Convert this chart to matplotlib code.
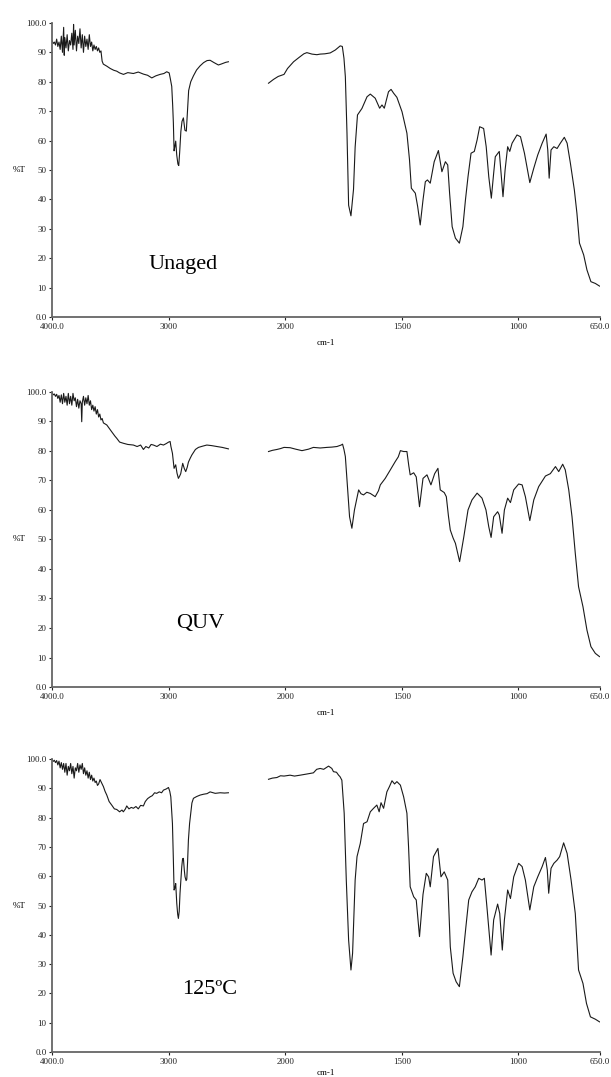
import numpy as np
import matplotlib
matplotlib.use("Agg")
import matplotlib.pyplot as plt
from matplotlib.ticker import NullLocator

plt.rcParams['font.family'] = ['Liberation Serif', 'DejaVu Serif']

# ---- data, wavenumber in cm-1, %T ----
# Unaged
unaged_hi_wn = [4000, 3990, 3980, 3970, 3960, 3950, 3940, 3930, 3920, 3910, 3900, 3895, 3890, 3880,
                3870, 3860, 3850, 3840, 3830, 3820, 3815, 3810, 3800, 3790, 3780, 3770, 3760, 3750,
                3740, 3730, 3720, 3710, 3700, 3690, 3680, 3670, 3660, 3650, 3640, 3630, 3620, 3610,
                3600, 3590, 3580, 3570, 3560, 3530, 3500, 3470, 3445, 3420, 3387, 3350, 3302, 3260,
                3216, 3180, 3144, 3110, 3073, 3040, 3016, 2995, 2985, 2973, 2965, 2959, 2953, 2946,
                2939, 2930, 2920, 2913, 2905, 2895, 2885, 2873, 2860, 2848, 2838, 2828, 2810, 2787,
                2760, 2730, 2700, 2670, 2644, 2610, 2573, 2550, 2530, 2510, 2487]
unaged_hi_t = [94, 93, 93.5, 92.5, 94.5, 92, 93.5, 91, 95.5, 90, 98.5, 89, 95, 91.5,
               96, 90.5, 94, 92.5, 96.5, 91, 99.5, 92.5, 97.5, 90.5, 95.5, 93, 98, 91.5,
               96, 90, 95.5, 92, 94.5, 91, 96, 92, 93.5, 90.5, 92.5, 91, 92, 90.5,
               91.5, 90, 90.5, 87, 86, 85.3, 84.5, 83.9, 83.6, 83.0, 82.5, 83.1, 82.8, 83.3,
               82.6, 82.2, 81.3, 82.0, 82.5, 82.8, 83.4, 83, 81, 78.4, 72, 66, 56.5, 58,
               59.8, 55, 52, 51.5, 56, 63, 66.5, 67.7, 63.5, 63.2, 70, 77, 80, 82,
               84, 85.4, 86.5, 87.2, 87.3, 86.5, 85.7, 86, 86.3, 86.6, 86.8]
unaged_lo_wn = [2143, 2100, 2060, 2010, 1990, 1964, 1940, 1920, 1907, 1885, 1864, 1850, 1830, 1807,
                1785, 1770, 1764, 1755, 1748, 1742, 1735, 1728, 1718, 1707, 1700, 1690, 1671, 1649,
                1635, 1614, 1595, 1585, 1575, 1557, 1546, 1535, 1521, 1499, 1478, 1467, 1459, 1442,
                1432, 1421, 1409, 1399, 1390, 1378, 1361, 1343, 1328, 1313, 1303, 1295, 1284, 1270,
                1253, 1238, 1227, 1216, 1203, 1189, 1177, 1166, 1149, 1138, 1127, 1116, 1106, 1099,
                1082, 1073, 1066, 1057, 1046, 1037, 1027, 1006, 991, 974, 951, 934, 917, 898,
                881, 874, 868, 860, 848, 834, 820, 803, 791, 777, 760, 749, 738, 720,
                706, 689, 670, 652]
unaged_lo_t = [79.5, 80.8, 81.8, 82.5, 84.5, 86.8, 88.3, 89.5, 89.9, 89.4, 89.2, 89.4, 89.5, 89.8,
               90.8, 91.8, 92.2, 92, 88, 81.7, 62.5, 38, 34.4, 43.4, 57.8, 68.7, 70.9, 74.9,
               75.8, 74.4, 71, 72.1, 71, 76.6, 77.4, 76.1, 74.7, 69.8, 62.5, 53.5, 43.8, 42.1,
               37.6, 31.3, 39.8, 46, 46.6, 45.5, 52.8, 56.6, 49.4, 52.8, 51.7, 42.1, 30.7, 26.8,
               25.1, 30.7, 39.8, 47.7, 55.7, 56.3, 60.2, 64.7, 64.1, 57.9, 47.7, 40.4, 48.9, 54.5,
               56.3, 47.7, 40.9, 50, 57.9, 56.3, 59.1, 61.9, 61.3, 55.7, 45.7, 50.6, 55.1, 59.1,
               62.2, 56.8, 47.2, 56.8, 57.9, 57.3, 59.1, 61.1, 59.1, 52.3, 43.2, 35.3, 25.1, 21.1,
               16, 12, 11.4, 10.5]

# QUV
quv_hi_wn = [4000, 3990, 3980, 3970, 3960, 3950, 3940, 3930, 3920, 3910, 3900, 3890, 3880, 3870,
             3860, 3850, 3840, 3830, 3820, 3810, 3800, 3790, 3780, 3770, 3760, 3750, 3745, 3740,
             3730, 3720, 3710, 3700, 3690, 3680, 3670, 3660, 3650, 3640, 3630, 3620, 3610, 3600,
             3590, 3580, 3570, 3559, 3530, 3488, 3460, 3445, 3420, 3388, 3350, 3302, 3270, 3240,
             3216, 3195, 3170, 3150, 3130, 3100, 3070, 3044, 3020, 3000, 2987, 2980, 2967, 2953,
             2939, 2928, 2916, 2905, 2896, 2879, 2865, 2853, 2840, 2830, 2815, 2801, 2770, 2744,
             2710, 2672, 2630, 2586, 2540, 2487]
quv_hi_t = [99.8, 99, 99.3, 98.5, 99.2, 97.8, 98.8, 96.5, 99, 96, 99.5, 96.5, 98.5, 95.5,
            99.5, 96, 98.5, 95.5, 99.5, 97, 98, 95, 97.5, 94.5, 97, 96, 89.9, 96.5,
            98.5, 95.5, 98, 96, 98.8, 95.5, 97, 94, 95.5, 93.5, 95, 92.5, 94, 91.5,
            92.5, 90.5, 91, 89.5, 88.8, 86.5, 85, 84.3, 83, 82.6, 82.2, 82, 81.5, 82,
            80.5, 81.5, 81, 82.2, 82, 81.5, 82.3, 82, 82.5, 83, 83.2, 81.5, 79.2, 74.1,
            75.3, 72.5, 70.7, 71.5, 72.3, 75.8, 74, 73, 74.5, 76.2, 77.5, 78.6, 80.5, 81.2,
            81.6, 82, 81.8, 81.5, 81.2, 80.7]
quv_lo_wn = [2143, 2110, 2071, 2040, 2010, 1979, 1955, 1928, 1900, 1879, 1850, 1821, 1800, 1778,
             1760, 1754, 1748, 1742, 1732, 1724, 1714, 1703, 1685, 1675, 1664, 1650, 1635, 1614,
             1600, 1592, 1571, 1549, 1528, 1515, 1506, 1492, 1478, 1470, 1464, 1449, 1438, 1424,
             1409, 1392, 1375, 1359, 1345, 1335, 1318, 1309, 1300, 1292, 1280, 1270, 1252, 1234,
             1216, 1199, 1177, 1156, 1139, 1127, 1117, 1106, 1089, 1082, 1070, 1060, 1046, 1034,
             1020, 999, 984, 970, 951, 934, 913, 884, 863, 841, 827, 810, 799, 784,
             770, 756, 742, 723, 706, 689, 670, 652]
quv_lo_t = [79.8, 80.2, 80.5, 80.8, 81.2, 81.1, 80.6, 80.1, 80.6, 81.2, 81, 81.2, 81.3, 81.5,
            82, 82.3, 80.5, 78.1, 66.8, 57.7, 53.8, 60, 66.8, 65.5, 65.1, 66, 65.6, 64.5,
            66.5, 68.5, 70.7, 73.6, 76.4, 78, 80.1, 79.8, 79.8, 75, 71.9, 72.6, 71.2, 61.1,
            70.7, 71.9, 68.5, 72.3, 74.1, 66.8, 65.9, 64.5, 58, 53.2, 50.5, 48.7, 42.5, 50.9,
            60, 63.4, 65.7, 64, 60, 54.3, 50.7, 57.7, 59.4, 58.3, 52.1, 60, 64, 62.5,
            66.8, 68.8, 68.5, 64.5, 56.4, 63.4, 67.9, 71.5, 72.3, 74.7, 73, 75.5, 73.6, 66.8,
            57.7, 45.3, 34, 27.2, 19.3, 13.7, 11.4, 10.3]

# 125 C
heat_hi_wn = [4000, 3990, 3980, 3970, 3960, 3950, 3940, 3930, 3920, 3910, 3900, 3890, 3880, 3870,
              3860, 3850, 3840, 3830, 3820, 3810, 3800, 3790, 3780, 3770, 3760, 3750, 3740, 3730,
              3720, 3710, 3700, 3690, 3680, 3670, 3660, 3650, 3640, 3630, 3620, 3610, 3600, 3588,
              3570, 3559, 3545, 3530, 3510, 3488, 3465, 3445, 3420, 3400, 3388, 3370, 3359, 3340,
              3320, 3302, 3280, 3260, 3240, 3216, 3200, 3180, 3159, 3140, 3120, 3102, 3080, 3060,
              3044, 3020, 3001, 2990, 2981, 2967, 2959, 2953, 2946, 2939, 2930, 2922, 2916, 2909,
              2902, 2887, 2880, 2873, 2865, 2859, 2850, 2844, 2837, 2830, 2820, 2810, 2800, 2787,
              2760, 2730, 2700, 2670, 2644, 2600, 2558, 2520, 2487]
heat_hi_t = [99.8, 99.2, 99.6, 98.8, 99.5, 98, 99.3, 97, 98.8, 96.5, 98.5, 95.5, 98.5, 94.5,
             97.5, 96, 98.5, 95, 97.5, 93.5, 97, 96, 98.5, 95.5, 98, 96.5, 98.5, 95,
             97, 94.5, 96, 93.5, 95.5, 93, 94.5, 92.5, 93.5, 92, 92.5, 91, 91.5, 93,
             91.5, 90.6, 89, 87.7, 85.5, 84.3, 83, 82.8, 82, 82.6, 82, 83, 84, 83,
             83.5, 83.2, 83.8, 83, 84.2, 84, 85.5, 86.5, 87.1, 87.5, 88.5, 88.3, 88.8, 88.5,
             89.4, 89.8, 90.3, 89, 87.1, 78, 65.5, 55.3, 56, 57.5, 50.8, 47, 45.6, 48,
             54.2, 63.3, 66, 66.1, 62, 59.8, 58.5, 59, 65, 72.4, 78, 81.5, 85, 86.6,
             87.2, 87.7, 88, 88.2, 88.8, 88.3, 88.5, 88.4, 88.5]
heat_lo_wn = [2143, 2110, 2071, 2040, 2010, 1979, 1960, 1936, 1907, 1879, 1865, 1850, 1835, 1814,
              1800, 1793, 1780, 1771, 1765, 1757, 1747, 1738, 1728, 1718, 1711, 1700, 1692, 1678,
              1664, 1649, 1635, 1621, 1607, 1597, 1589, 1578, 1564, 1553, 1542, 1531, 1521, 1506,
              1492, 1478, 1471, 1464, 1449, 1438, 1424, 1409, 1395, 1385, 1378, 1364, 1345, 1332,
              1318, 1303, 1292, 1280, 1267, 1253, 1238, 1225, 1213, 1199, 1185, 1170, 1156, 1146,
              1135, 1117, 1106, 1089, 1080, 1069, 1060, 1046, 1034, 1020, 999, 984, 970, 951,
              934, 917, 898, 884, 876, 870, 860, 848, 834, 823, 806, 791, 774, 756,
              742, 723, 708, 691, 670, 652]
heat_lo_t = [93.1, 93.5, 93.7, 94.3, 94.2, 94.5, 94.2, 94.5, 94.9, 95.3, 96.5, 96.8, 96.5, 97.6,
             96.8, 95.7, 95.5, 94.5, 94, 92.8, 81.5, 58.7, 38.2, 28, 33.7, 58.7, 66.7, 71.2,
             78, 78.6, 82, 83.2, 84.3, 82, 85.1, 83.2, 88.8, 90.6, 92.6, 91.5, 92.3, 91.1,
             87.1, 81.5, 70.1, 56.4, 53, 51.9, 39.4, 53.8, 61, 59.8, 56.4, 66.7, 69.5, 59.8,
             61.5, 58.7, 35.9, 26.9, 24, 22.3, 32.5, 42.8, 51.9, 54.7, 56.4, 59.3, 58.7, 59.3,
             49.6, 33.1, 45.1, 50.5, 47.3, 34.8, 45.1, 55.3, 52.4, 59.8, 64.4, 63.3, 58.7, 48.5,
             56.4, 59.8, 63.3, 66.4, 62.1, 54.2, 62.7, 64.4, 65.5, 66.7, 71.4, 67.8, 58.7, 47.3,
             28, 23.4, 16.6, 12, 11.2, 10.3]

labels = ["Unaged", "QUV", "125\u00baC"]
label_pos = [(0.239, 0.177), (0.27, 0.214), (0.288, 0.212)]
x_ticks = [4000, 3000, 2000, 1500, 1000, 650]
x_ticklabels = ["4000.0", "3000", "2000", "1500", "1000", "650.0"]
y_ticks = list(range(0, 101, 10))
y_ticklabels = ["0.0"] + [str(v) for v in range(10, 100, 10)] + ["100.0"]


# instrument x-axis: 1000 cm-1 per unit above 2000, 500 cm-1 per unit below
def fwd(w):
    w = np.asarray(w, float)
    return np.where(w >= 2000, w / 1000.0, 2.0 + (w - 2000.0) / 500.0)


def inv(u):
    u = np.asarray(u, float)
    return np.where(u >= 2, u * 1000.0, 2000.0 + (u - 2.0) * 500.0)


spectra = [
    (unaged_hi_wn, unaged_hi_t, unaged_lo_wn, unaged_lo_t),
    (quv_hi_wn, quv_hi_t, quv_lo_wn, quv_lo_t),
    (heat_hi_wn, heat_hi_t, heat_lo_wn, heat_lo_t),
]
bottoms = [0.7057, 0.3621, 0.0232]
heights = [0.273, 0.274, 0.272]
cm_label_y = [-0.088, -0.088, -0.072]

fig = plt.figure(figsize=(6.11, 10.77), dpi=100)

for i, (hw, ht, lw_, lt) in enumerate(spectra):
    ax = fig.add_axes([0.0851, bottoms[i], 0.8969, heights[i]])
    ax.set_xscale('function', functions=(fwd, inv))
    ax.plot(hw, ht, color='#1a1a1a', lw=0.8)
    ax.plot(lw_, lt, color='#1a1a1a', lw=0.8)
    ax.set_xlim(4000, 650)
    ax.set_ylim(0, 100)
    ax.set_xticks(x_ticks)
    ax.set_xticklabels(x_ticklabels)
    ax.xaxis.set_minor_locator(NullLocator())
    ax.set_yticks(y_ticks)
    ax.set_yticklabels(y_ticklabels)
    ax.tick_params(labelsize=6.5, length=2, width=0.8, pad=2, colors='#222222')
    for s in ['top', 'right']:
        ax.spines[s].set_visible(False)
    for s in ['left', 'bottom']:
        ax.spines[s].set_color('#666666')
        ax.spines[s].set_linewidth(1.3)
    ax.text(-0.06, 0.5, "%T", transform=ax.transAxes, fontsize=6.5,
            ha='center', va='center')
    ax.text(0.5, cm_label_y[i], "cm-1", transform=ax.transAxes, fontsize=6.5,
            ha='center', va='center')
    ax.text(label_pos[i][0], label_pos[i][1], labels[i], transform=ax.transAxes,
            fontsize=16, ha='center', va='center')

fig.savefig("out.png", dpi=100)
